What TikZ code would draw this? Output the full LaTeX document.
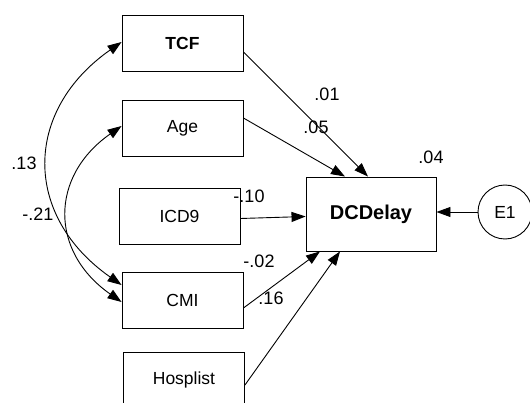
\documentclass[tikz,border=0pt]{standalone}
\usepackage{fontspec}
\setmainfont{Liberation Sans}
\usetikzlibrary{arrows.meta}

\begin{document}
\begin{tikzpicture}[x=1pt, y=1pt, line width=0.9pt, >={Triangle[length=14pt,width=10pt]}]
        \tikzstyle{var}=[draw, rectangle, minimum width=121pt, minimum height=56pt, inner sep=0pt, font=\fontsize{17.5}{20}\selectfont]
        \tikzstyle{coef}=[inner sep=0pt, font=\fontsize{18}{20}\selectfont]
        \useasboundingbox (0,0) rectangle (530,-403);
        \clip (0,0) rectangle (530,-403);
        % observed variables
        \node [var] (tcf) at (182.5,-43.5) {\bfseries TCF};
        \node [var] (age) at (182.5,-128) {Age};
        \node [var] (icd) at (179.5,-216.5) {ICD9};
        \node [var] (cmi) at (182.5,-300) {CMI};
        \node [var] (hosp) at (184,-380) {Hosplist};
        \node [var, minimum width=130pt, minimum height=74pt, font=\fontsize{20}{22}\selectfont\bfseries] (dcd) at (371,-214) {DCDelay};
        \node [draw, circle, minimum size=54pt, inner sep=0pt, font=\fontsize{17.5}{20}\selectfont] (e1) at (505,-212) {E1};
        % paths
        \draw [->] ([yshift=-8.5pt]tcf.east) -- ([xshift=-3pt]dcd.north);
        \draw [->] ([yshift=10pt]age.east) -- ([xshift=-26pt]dcd.north);
        \draw [->] ([yshift=-2pt]icd.east) -- (icd.east -| dcd.west);
        \draw [->] ([yshift=-8pt]cmi.east) -- ([xshift=-51pt]dcd.south);
        \draw [->] ([yshift=-5pt]hosp.east) -- ([xshift=-31pt]dcd.south);
        \draw [->] (e1.west) -- (e1.west -| dcd.east);
        % covariances
        \draw [<->] ([yshift=1.5pt]tcf.west) to[out=215, in=145, looseness=1.27] ([yshift=15pt]cmi.west);
        \draw [<->] ([yshift=2pt]age.west) to[out=215, in=145, looseness=1.28] ([yshift=-2pt]cmi.west);
        % estimates
        \node [coef] (c01) at (327,-94) {.01};
        \node [coef] (c05) at (316,-127) {.05};
        \node [coef] (c04) at (431,-157) {.04};
        \node [coef] (c10) at (249,-196) {-.10};
        \node [coef] (c02) at (259,-261) {-.02};
        \node [coef] (c16) at (271,-298) {.16};
        \node [coef] (c13) at (24,-163) {.13};
        \node [coef] (c21) at (38,-214) {-.21};
    \end{tikzpicture}
\end{document}
